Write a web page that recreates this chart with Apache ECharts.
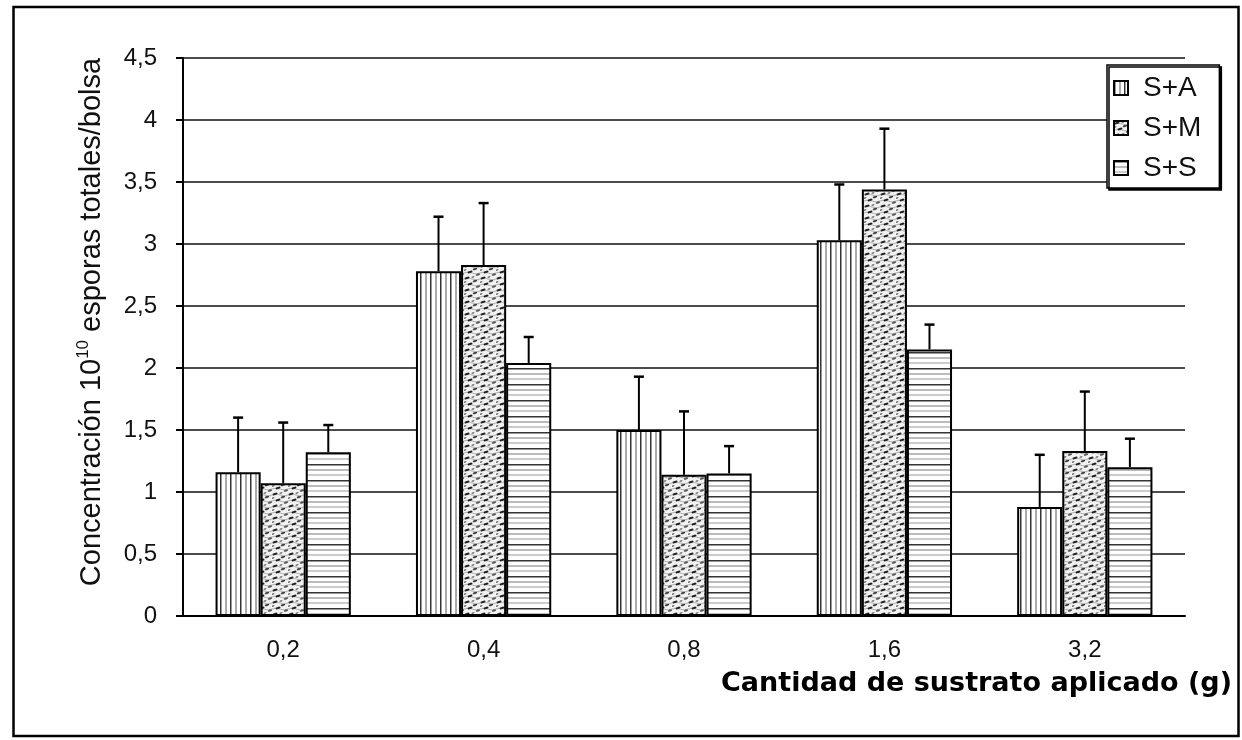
<!DOCTYPE html>
<html>
<head>
<meta charset="utf-8">
<title>Concentración de esporas</title>
<script src="https://cdn.jsdelivr.net/npm/echarts@6/dist/echarts.min.js"></script>
<style>
  html, body { margin: 0; padding: 0; background: #fff; }
  #chart { width: 1242px; height: 740px; }
</style>
</head>
<body>
<div id="chart"></div>
<script>
// data
var categories = ["0,2", "0,4", "0,8", "1,6", "3,2"];
var seriesNames = ["S+A", "S+M", "S+S"];

var valuesSA = [1.16, 2.78, 1.50, 3.03, 0.88];
var valuesSM = [1.07, 2.83, 1.14, 3.44, 1.33];
var valuesSS = [1.32, 2.04, 1.15, 2.15, 1.20];

// top of each error bar
var errTopSA = [1.60, 3.22, 1.93, 3.48, 1.30];
var errTopSM = [1.56, 3.33, 1.65, 3.93, 1.81];
var errTopSS = [1.54, 2.25, 1.37, 2.35, 1.43];

var CAT_GAP = 0.325;
var FONT = "Liberation Sans";

function dash(ctx, x, y, w, h, col) {
  ctx.fillStyle = col;
  ctx.beginPath();
  ctx.ellipse(x, y, w, h, -0.3, 0, Math.PI * 2);
  ctx.fill();
}

function makePattern(kind) {
  var c = document.createElement("canvas");
  var ctx;
  if (kind === "vertical") {
    c.width = 10; c.height = 4;
    ctx = c.getContext("2d");
    ctx.fillStyle = "#fff"; ctx.fillRect(0, 0, 10, 4);
    ctx.fillStyle = "#333"; ctx.fillRect(0, 0, 1.5, 4);
    ctx.fillStyle = "#aaa"; ctx.fillRect(5, 0, 2, 4);
  } else if (kind === "horizontal") {
    c.width = 4; c.height = 16;
    ctx = c.getContext("2d");
    ctx.fillStyle = "#fff"; ctx.fillRect(0, 0, 4, 16);
    ctx.fillStyle = "#333"; ctx.fillRect(0, 0, 4, 1.5);
    ctx.fillStyle = "#bbb"; ctx.fillRect(0, 5, 4, 2);
    ctx.fillStyle = "#ccc"; ctx.fillRect(0, 10, 4, 2);
  } else {
    // speckled, wavy texture
    c.width = 16; c.height = 12;
    ctx = c.getContext("2d");
    ctx.fillStyle = "#f2f2f2"; ctx.fillRect(0, 0, 16, 12);
    ctx.strokeStyle = "#b0b0b0"; ctx.lineWidth = 1;
    ctx.beginPath();
    ctx.moveTo(0, 3); ctx.quadraticCurveTo(4, 1, 8, 3); ctx.quadraticCurveTo(12, 5, 16, 3);
    ctx.moveTo(0, 9); ctx.quadraticCurveTo(4, 7, 8, 9); ctx.quadraticCurveTo(12, 11, 16, 9);
    ctx.stroke();
    dash(ctx, 3, 2, 2.6, 1.1, "#222");
    dash(ctx, 11, 5, 2.4, 1.0, "#444");
    dash(ctx, 6, 8, 2.6, 1.1, "#222");
    dash(ctx, 14, 10.5, 2.2, 1.0, "#555");
    dash(ctx, 9, 1, 1.6, 0.8, "#777");
    dash(ctx, 1, 6, 1.6, 0.8, "#777");
  }
  return { image: c, repeat: "repeat" };
}

function barSeries(idx, values, kind) {
  return {
    name: seriesNames[idx],
    type: "bar",
    barGap: "0%",
    barCategoryGap: CAT_GAP * 100 + "%",
    data: values,
    itemStyle: {
      color: makePattern(kind),
      borderColor: "#000",
      borderWidth: 2
    }
  };
}

function errorSeries(idx, values, tops) {
  return {
    name: seriesNames[idx] + " err",
    type: "custom",
    z: 5,
    encode: { x: 0, y: [1, 2] },
    data: categories.map(function(c, i) {
      return [i, values[i], tops[i]];
    }),
    renderItem: function(params, api) {
      var band = api.size([1, 0])[0];
      var barW = band * (1 - CAT_GAP) / 3;
      var base = api.coord([api.value(0), api.value(1)]);
      var top = api.coord([api.value(0), api.value(2)]);
      var x = base[0] + (idx - 1) * barW;
      return {
        type: "group",
        children: [
          {
            type: "line",
            shape: { x1: x, y1: base[1], x2: x, y2: top[1] },
            style: { stroke: "#000", lineWidth: 2 }
          },
          {
            type: "line",
            shape: { x1: x - 5, y1: top[1], x2: x + 5, y2: top[1] },
            style: { stroke: "#000", lineWidth: 2.5 }
          }
        ]
      };
    }
  };
}

var myChart = echarts.init(document.getElementById("chart"));

var option = {
  animation: false,
  backgroundColor: "#fff",
  textStyle: { fontFamily: FONT },
  grid: { left: 183, right: 57, top: 58, bottom: 124 },
  legend: {
    data: seriesNames,
    orient: "vertical",
    left: 1107,
    top: 65,
    icon: "rect",
    itemWidth: 14,
    itemHeight: 14,
    itemGap: 12,
    padding: [9, 18, 6, 6],
    backgroundColor: "#fff",
    borderColor: "#000",
    borderWidth: 1.5,
    shadowColor: "#000",
    shadowBlur: 0,
    shadowOffsetX: 2,
    shadowOffsetY: 2,
    textStyle: {
      fontFamily: FONT,
      fontSize: 28,
      lineHeight: 26,
      color: "#111",
      padding: [0, 0, 0, 10]
    }
  },
  xAxis: {
    type: "category",
    data: categories,
    name: "Cantidad de sustrato aplicado (g)",
    nameLocation: "end",
    nameGap: 47,
    nameTextStyle: {
      fontFamily: "DejaVu Sans",
      fontWeight: "bold",
      fontSize: 27,
      color: "#000",
      align: "right",
      verticalAlign: "top",
      padding: [54, 0, 0, 0]
    },
    axisLine: { lineStyle: { color: "#000", width: 2 } },
    axisTick: { length: 8, lineStyle: { color: "#000", width: 2 } },
    axisLabel: { fontFamily: FONT, fontSize: 24, color: "#111", margin: 22 }
  },
  yAxis: {
    type: "value",
    min: 0,
    max: 4.5,
    interval: 0.5,
    name: "{n|Concentración 10}{s|10}{n| esporas totales/bolsa}",
    nameLocation: "middle",
    nameGap: 75,
    nameTextStyle: {
      padding: [0, 0, 0, 30],
      rich: {
        n: { fontFamily: FONT, fontSize: 29, lineHeight: 33, color: "#111" },
        s: { fontFamily: FONT, fontSize: 17, lineHeight: 17, verticalAlign: "top", color: "#111" }
      }
    },
    axisLine: { show: true, lineStyle: { color: "#000", width: 2 } },
    axisTick: { show: true, length: 7, lineStyle: { color: "#000", width: 2 } },
    splitLine: { lineStyle: { color: "#111", width: 1.5 } },
    axisLabel: {
      fontFamily: FONT,
      fontSize: 24,
      color: "#111",
      margin: 26,
      formatter: function(v) {
        return String(v).replace(".", ",");
      }
    }
  },
  graphic: [
    {
      type: "rect",
      shape: { x: 13.5, y: 7, width: 1225, height: 729 },
      style: { fill: "none", stroke: "#000", lineWidth: 2.5 },
      silent: true
    }
  ],
  series: [
    barSeries(0, valuesSA, "vertical"),
    barSeries(1, valuesSM, "speckle"),
    barSeries(2, valuesSS, "horizontal"),
    errorSeries(0, valuesSA, errTopSA),
    errorSeries(1, valuesSM, errTopSM),
    errorSeries(2, valuesSS, errTopSS)
  ]
};

myChart.setOption(option);
</script>
</body>
</html>
